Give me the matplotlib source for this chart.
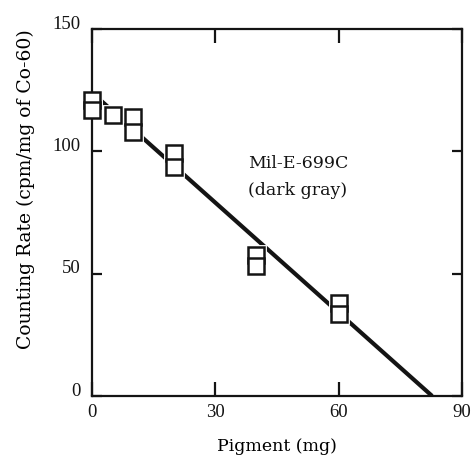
import matplotlib

matplotlib.use("Agg")
import matplotlib.pyplot as plt
from matplotlib.transforms import ScaledTranslation

# measured points (two readings per pigment load)
pigment_mg = [0, 0, 5, 10, 10, 20, 20, 40, 40, 60, 60]
rate_cpm = [121, 117, 115, 114, 108, 99.5, 93.5, 57.5, 53, 38, 33.5]

# fitted line end points
fit_x = [2, 82.7]
fit_y = [121, 0]

x_ticks = [0, 30, 60, 90]
y_ticks = [0, 50, 100, 150]

INK = "#141414"
LABEL_FONT = ["DejaVu Serif"]

plt.rcParams.update({
    "font.family": ["Liberation Serif", "DejaVu Serif"],
    "font.size": 13,
    "text.color": INK,
    "axes.edgecolor": INK,
    "xtick.color": INK,
    "ytick.color": INK,
})

fig = plt.figure(figsize=(4.74, 4.58), dpi=100)
ax = fig.add_axes([0.194, 0.1354, 0.781, 0.8013])

ax.plot(fit_x, fit_y, color=INK, lw=3.0, solid_capstyle="butt", zorder=2)
# thin white halo so the line breaks around each square, as in the print
ax.plot(pigment_mg, rate_cpm, ls="none", marker="s", ms=11.5,
        mfc="white", mec="white", mew=3.5, zorder=2.5, clip_on=False)
ax.plot(pigment_mg, rate_cpm, ls="none", marker="s", ms=11.5,
        mfc="white", mec=INK, mew=1.8, zorder=3, clip_on=False)

ax.set_xlim(0, 90)
ax.set_ylim(0, 150)
ax.set_xticks(x_ticks)
ax.set_yticks(y_ticks)
for s in ax.spines.values():
    s.set_linewidth(1.6)
ax.tick_params(direction="in", length=10, width=1.6, labelsize=13.5,
               top=True, right=True, pad=6)
ax.tick_params(axis="y", length=7, pad=8)
for lab in ax.get_yticklabels():
    lab.set_transform(lab.get_transform()
                      + ScaledTranslation(0, 5 / 72, fig.dpi_scale_trans))

ax.set_xlabel("Pigment (mg)", fontsize=12.5, family=LABEL_FONT, labelpad=12)
ax.set_ylabel("Counting Rate (cpm/mg of Co-60)", fontsize=13.5,
              family=LABEL_FONT)
ax.yaxis.set_label_coords(-0.155, 0.564)

ax.text(38, 95, "Mil-E-699C", fontsize=12.5, family=LABEL_FONT,
        va="center", ha="left")
ax.text(38, 84, "(dark gray)", fontsize=12.5, family=LABEL_FONT,
        va="center", ha="left")

fig.savefig("out.png", dpi=100, facecolor="white")
